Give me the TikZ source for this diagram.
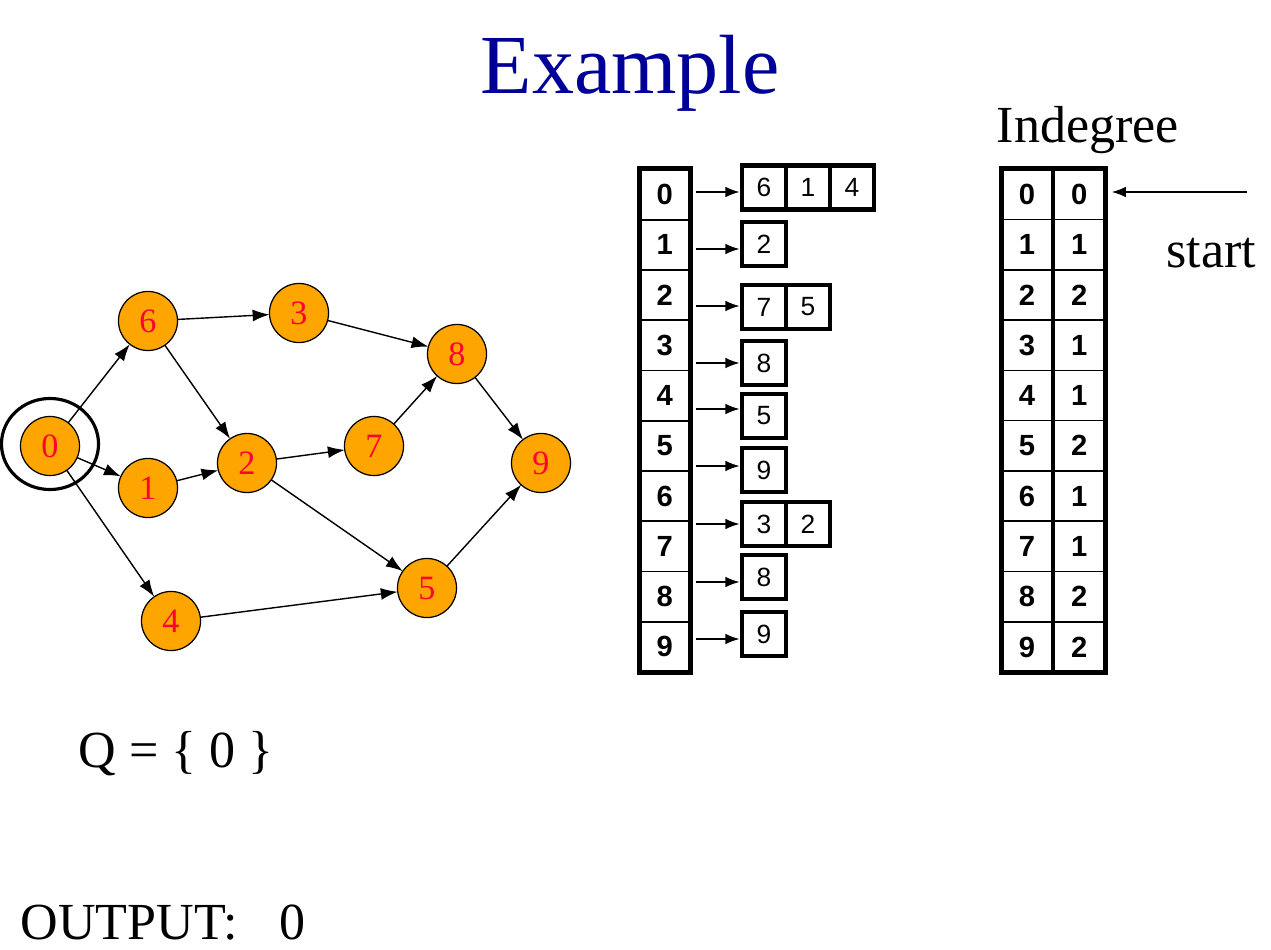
\documentclass[tikz,border=0pt]{standalone}
\usepackage{fontspec}
\setmainfont{Liberation Serif}
\newfontfamily\arialfont{Liberation Sans}
\usetikzlibrary{arrows.meta}
\definecolor{vfill}{RGB}{255,165,0}
\definecolor{vtext}{RGB}{255,0,51}
\definecolor{titleblue}{RGB}{0,0,153}
\tikzstyle{vertex}=[circle,draw,line width=0.35pt,fill=vfill,text=vtext,inner sep=0pt,outer sep=0pt,minimum size=0.59cm,font=\fontsize{9.7}{10}\selectfont]
\tikzstyle{link}=[draw,line width=0.4pt,-{Latex[length=4.8pt,width=3.4pt]}]
\tikzstyle{ptr}=[draw,line width=0.4pt,-{Latex[length=4pt,width=3pt]}]
\tikzstyle{slot}=[draw,line width=0.45pt,inner sep=0pt,minimum width=0.495cm,minimum height=0.5025cm,font=\arialfont\bfseries\fontsize{8.3}{9}\selectfont]
\tikzstyle{listcell}=[draw,line width=1.4pt,inner sep=0pt,minimum size=0.44cm,font=\arialfont\fontsize{7.5}{8}\selectfont]
\tikzstyle{thickframe}=[line width=1.4pt]
\tikzstyle{textline}=[inner sep=0pt,anchor=base west,font=\fontsize{14.8}{16}\selectfont]
\begin{document}
\begin{tikzpicture}[x=0.01cm,y=-0.01cm]
\useasboundingbox (0,0) rectangle (1271,949);
\node[textline,text=titleblue,font=\fontsize{23.9}{26}\selectfont] (title) at (480,94) {Example};
% graph
\path (50,446) node[vertex] (v0) {0}
      (148,321) node[vertex] (v6) {6}
      (299,313) node[vertex] (v3) {3}
      (148,488) node[vertex] (v1) {1}
      (247,463) node[vertex] (v2) {2}
      (171,621) node[vertex] (v4) {4}
      (374,446) node[vertex] (v7) {7}
      (457,354) node[vertex] (v8) {8}
      (427,588) node[vertex] (v5) {5}
      (541,463) node[vertex] (v9) {9};
\draw[line width=0.9pt] (v0.center) ++(0,-2) ellipse [x radius=0.485cm, y radius=0.455cm];
\foreach \a/\b in {0/6,0/1,0/4,6/3,6/2,1/2,3/8,2/7,2/5,7/8,4/5,8/9,5/9}
    \path[link] (v\a) -- (v\b);
% adjacency lists
\foreach \i in {0,...,9}
    \node[slot] (a\i) at (664.75,{194.6+50.25*\i}) {\i};
\draw[thickframe] (a0.north west) rectangle (a9.south east);
\foreach \i/\y/\ay/\vs in {0/187.5/192/{6,1,4},1/244/249/{2},2/307/306/{7,5},3/363/363/{8},4/416/409/{5},5/470/466/{9},6/524/524/{3,2},7/577/582/{8},8/634/639/{9}} {
    \foreach \v [count=\k from 0] in \vs
        \node[listcell] (l\i\k) at ({764+44*\k},\y) {\v};
    \coordinate (p\i) at (696,\ay);
    \path[ptr] (p\i) -- (p\i -| l\i0.west);
}
% indegree
\node[textline] (indeg) at (996,143) {Indegree};
\foreach \i/\d in {0/0,1/1,2/2,3/1,4/1,5/2,6/1,7/1,8/2,9/2} {
    \node[slot,minimum width=0.5cm] (n\i) at (1027,{194.25+50.3*\i}) {\i};
    \node[slot,minimum width=0.51cm,anchor=west] (deg\i) at (n\i.east) {\d};
}
\draw[thickframe] (n0.north west) rectangle (deg9.south east);
\draw[line width=1.2pt] (n0.north east) -- (n9.south east);
\coordinate (s) at (1247,192);
\path[ptr,shorten >=1.8pt] (s) -- (s -| deg0.east);
\node[textline] (start) at (1166,268) {start};
% queue and output
\node[textline] (queue) at (78,767) {Q = \{ 0 \}};
\node[textline] (output) at (20,939) {OUTPUT:\hspace{0.8em}0};
\end{tikzpicture}
\end{document}
